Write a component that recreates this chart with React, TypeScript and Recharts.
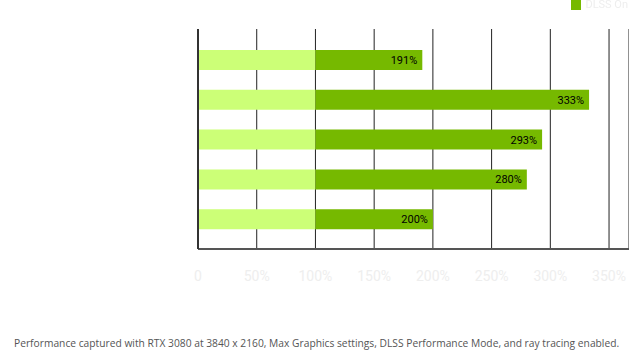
import React from "react";
import {
  BarChart,
  Bar,
  XAxis,
  YAxis,
  CartesianGrid,
  LabelList,
  Legend,
} from "recharts";

const categories = ["Game 1", "Game 2", "Game 3", "Game 4", "Game 5"];
const dlssOff = [100, 100, 100, 100, 100];
const dlssOn = [191, 333, 293, 280, 200];
const xTicks = [0, 50, 100, 150, 200, 250, 300, 350];
const footnote =
  "Performance captured with RTX 3080 at 3840 x 2160, Max Graphics settings, DLSS Performance Mode, and ray tracing enabled.";

const data = categories.map((name, i) => ({
  name,
  off: dlssOff[i],
  gain: dlssOn[i] - dlssOff[i],
  total: dlssOn[i],
}));

const LegendContent = () => (
  <div
    style={{
      display: "flex",
      alignItems: "center",
      justifyContent: "flex-end",
      fontFamily: "Roboto, sans-serif",
      fontSize: 11,
      color: "#eeeeee",
      lineHeight: "10px",
      height: 10,
      overflow: "visible",
    }}
  >
    <span
      style={{
        display: "inline-block",
        width: 10,
        height: 10,
        background: "#76b900",
        marginRight: 4,
      }}
    />
    <span>DLSS On</span>
  </div>
);

export default function App() {
  return (
    <div
      style={{
        position: "fixed",
        left: 0,
        top: 0,
        width: 629,
        height: 353,
        background: "#ffffff",
      }}
    >
      <BarChart
        width={629}
        height={353}
        data={data}
        layout="vertical"
        margin={{ top: 19, right: 0, left: 0, bottom: 74 }}
      >
        <CartesianGrid horizontal={false} stroke="#222222" />
        <XAxis
          type="number"
          domain={[0, 367]}
          ticks={xTicks}
          allowDataOverflow
          tickFormatter={(v: number) => (v === 0 ? "0" : `${v}%`)}
          tick={{ fill: "#eeeeee", fontSize: 14, fontFamily: "Roboto, sans-serif" }}
          axisLine={{ stroke: "#555555", strokeWidth: 2 }}
          tickLine={false}
          tickSize={0}
          tickMargin={22}
          height={30}
        />
        <YAxis
          type="category"
          dataKey="name"
          width={198}
          padding={{ top: 11, bottom: 10 }}
          axisLine={{ stroke: "#333333", strokeWidth: 2 }}
          tickLine={false}
          tick={{ fill: "#ffffff", fontSize: 12 }}
        />
        <Legend
          verticalAlign="top"
          align="right"
          content={<LegendContent />}
          wrapperStyle={{ top: 0, right: 1, left: "auto", width: 200, height: 10 }}
        />
        <Bar
          dataKey="off"
          stackId="a"
          fill="#ccff77"
          barSize={20}
          isAnimationActive={false}
          legendType="none"
        />
        <Bar
          dataKey="gain"
          stackId="a"
          fill="#76b900"
          barSize={20}
          isAnimationActive={false}
          name="DLSS On"
        >
          <LabelList
            dataKey="total"
            position="insideRight"
            formatter={(v: number) => `${v}%`}
            style={{ fill: "#000000", fontSize: 11, fontFamily: "Roboto, sans-serif" }}
          />
        </Bar>
      </BarChart>
      <div
        style={{
          position: "absolute",
          left: 14,
          top: 336,
          fontFamily: "'Open Sans', sans-serif",
          fontSize: 10.25,
          color: "#555555",
          whiteSpace: "nowrap",
        }}
      >
        {footnote}
      </div>
    </div>
  );
}
